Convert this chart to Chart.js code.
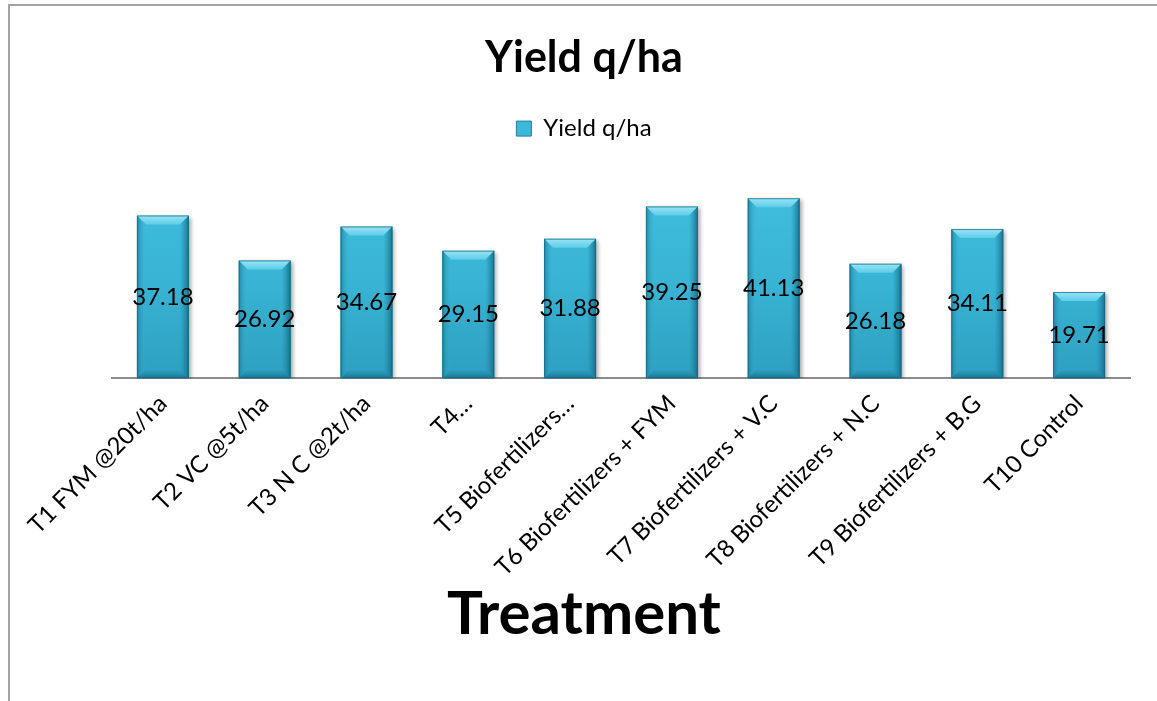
<!DOCTYPE html>
<html>
<head>
<meta charset="utf-8">
<script src="https://cdn.jsdelivr.net/npm/chart.js@4.4.1/dist/chart.umd.min.js"></script>
<style>
  html, body { margin: 0; padding: 0; background: #fff; overflow: hidden; }
  #frame { position: absolute; left: 8px; top: 4px; width: 1300px; height: 900px;
           border-left: 2px solid #a3a3a3; border-top: 2px solid #a3a3a3; }
  #wrap { position: absolute; left: 0; top: 0; width: 1157px; height: 701px; }
</style>
</head>
<body>
<div id="frame"></div>
<div id="wrap"><canvas id="myChart"></canvas></div>
<script>
const categories = [
    'T1 FYM @20t/ha',
    'T2 VC @5t/ha',
    'T3 N C @2t/ha',
    'T4…',
    'T5 Biofertilizers…',
    'T6 Biofertilizers + FYM',
    'T7 Biofertilizers + V.C',
    'T8 Biofertilizers + N.C',
    'T9 Biofertilizers + B.G',
    'T10 Control'
];
const yieldValues = [37.18, 26.92, 34.67, 29.15, 31.88, 39.25, 41.13, 26.18, 34.11, 19.71];
const seriesName = 'Yield q/ha';
const chartTitle = 'Yield q/ha';
const axisTitle = 'Treatment';

const FONT = 'Lato, "Noto Sans", sans-serif';

// soft drop shadow behind the bars
const barShadow = {
    id: 'barShadow',
    beforeDatasetDraw(chart) {
        const ctx = chart.ctx;
        ctx.save();
        ctx.shadowColor = 'rgba(0,0,0,0.35)';
        ctx.shadowBlur = 4;
        ctx.shadowOffsetX = 2;
        ctx.shadowOffsetY = 2;
    },
    afterDatasetDraw(chart) {
        chart.ctx.restore();
    }
};

// bevel look + value labels in the middle of each bar
const bevelBars = {
    id: 'bevelBars',
    afterDatasetsDraw(chart) {
        const ctx = chart.ctx;
        const meta = chart.getDatasetMeta(0);
        meta.data.forEach((bar, i) => {
            const w = bar.width;
            const x0 = bar.x - w / 2, x1 = bar.x + w / 2;
            const top = bar.y, bottom = bar.base;
            const d = Math.min(9, w / 5);
            ctx.save();

            // top bevel
            let g = ctx.createLinearGradient(0, top, 0, top + d);
            g.addColorStop(0, '#9be4f4');
            g.addColorStop(1, '#5ccde9');
            ctx.fillStyle = g;
            ctx.beginPath();
            ctx.moveTo(x0, top); ctx.lineTo(x1, top);
            ctx.lineTo(x1 - d, top + d); ctx.lineTo(x0 + d, top + d);
            ctx.closePath(); ctx.fill();

            // left bevel
            g = ctx.createLinearGradient(x0, 0, x0 + d, 0);
            g.addColorStop(0, 'rgba(24,120,150,0.75)');
            g.addColorStop(1, 'rgba(60,185,215,0)');
            ctx.fillStyle = g;
            ctx.beginPath();
            ctx.moveTo(x0, top); ctx.lineTo(x0 + d, top + d);
            ctx.lineTo(x0 + d, bottom - d); ctx.lineTo(x0, bottom);
            ctx.closePath(); ctx.fill();

            // right bevel
            g = ctx.createLinearGradient(x1 - d, 0, x1, 0);
            g.addColorStop(0, 'rgba(30,130,160,0)');
            g.addColorStop(1, 'rgba(18,100,128,0.85)');
            ctx.fillStyle = g;
            ctx.beginPath();
            ctx.moveTo(x1, top); ctx.lineTo(x1 - d, top + d);
            ctx.lineTo(x1 - d, bottom - d); ctx.lineTo(x1, bottom);
            ctx.closePath(); ctx.fill();

            // bottom bevel
            g = ctx.createLinearGradient(0, bottom - d, 0, bottom);
            g.addColorStop(0, 'rgba(30,130,160,0)');
            g.addColorStop(1, 'rgba(18,100,128,0.8)');
            ctx.fillStyle = g;
            ctx.beginPath();
            ctx.moveTo(x0, bottom); ctx.lineTo(x0 + d, bottom - d);
            ctx.lineTo(x1 - d, bottom - d); ctx.lineTo(x1, bottom);
            ctx.closePath(); ctx.fill();

            // thin outline
            ctx.strokeStyle = 'rgba(20,100,125,0.7)';
            ctx.lineWidth = 1;
            ctx.strokeRect(x0 + 0.5, top + 0.5, w - 1, bottom - top - 1);

            // value label
            ctx.fillStyle = '#000';
            ctx.font = '24px ' + FONT;
            ctx.textAlign = 'center';
            ctx.textBaseline = 'middle';
            ctx.fillText(yieldValues[i].toFixed(2), bar.x, (top + bottom) / 2);
            ctx.restore();
        });
    }
};

const data = {
    labels: categories,
    datasets: [{
        label: seriesName,
        data: yieldValues,
        backgroundColor: (c) => {
            const area = c.chart.chartArea;
            if (!area) return '#3bb7d6';
            const g = c.chart.ctx.createLinearGradient(0, area.top, 0, area.bottom);
            g.addColorStop(0, '#44c2e0');
            g.addColorStop(0.6, '#38b3d3');
            g.addColorStop(1, '#2e9fc0');
            return g;
        },
        borderWidth: 0,
        barPercentage: 0.51,
        categoryPercentage: 1.0
    }]
};

const config = {
    type: 'bar',
    data: data,
    options: {
        responsive: true,
        maintainAspectRatio: false,
        animation: false,
        layout: {
            padding: { left: 38, right: 27, top: 0, bottom: 50 }
        },
        plugins: {
            title: {
                display: true,
                text: chartTitle,
                color: '#000',
                font: { family: FONT, size: 43, weight: 'bold' },
                padding: { top: 32, bottom: 23 }
            },
            subtitle: {
                // axis title, centred on the whole chart like the original
                display: true,
                text: axisTitle,
                position: 'bottom',
                color: '#000',
                font: { family: FONT, size: 60, weight: 'bold' },
                padding: { top: -14, bottom: 0 }
            },
            legend: {
                display: true,
                labels: {
                    color: '#000',
                    font: { family: FONT, size: 24 },
                    boxWidth: 15,
                    boxHeight: 15,
                    padding: 10,
                    generateLabels: (chart) => [{
                        text: seriesName,
                        fillStyle: '#3cb8d8',
                        strokeStyle: '#1f7f9c',
                        lineWidth: 1,
                        datasetIndex: 0
                    }]
                }
            },
            tooltip: { enabled: false }
        },
        scales: {
            x: {
                grid: { display: false, drawTicks: false },
                border: { display: true, color: '#8c8c8c', width: 2 },
                ticks: {
                    color: '#000',
                    font: { family: FONT, size: 24 },
                    minRotation: 45,
                    maxRotation: 45,
                    autoSkip: false,
                    padding: 11
                }
            },
            y: {
                display: true,
                min: 0,
                max: 52,
                grid: { display: false, drawTicks: false },
                border: { display: false },
                ticks: { display: false },
                afterFit: (scale) => { scale.width = 74; }
            }
        }
    },
    plugins: [barShadow, bevelBars]
};

const myChart = new Chart(document.getElementById('myChart'), config);
</script>
</body>
</html>
